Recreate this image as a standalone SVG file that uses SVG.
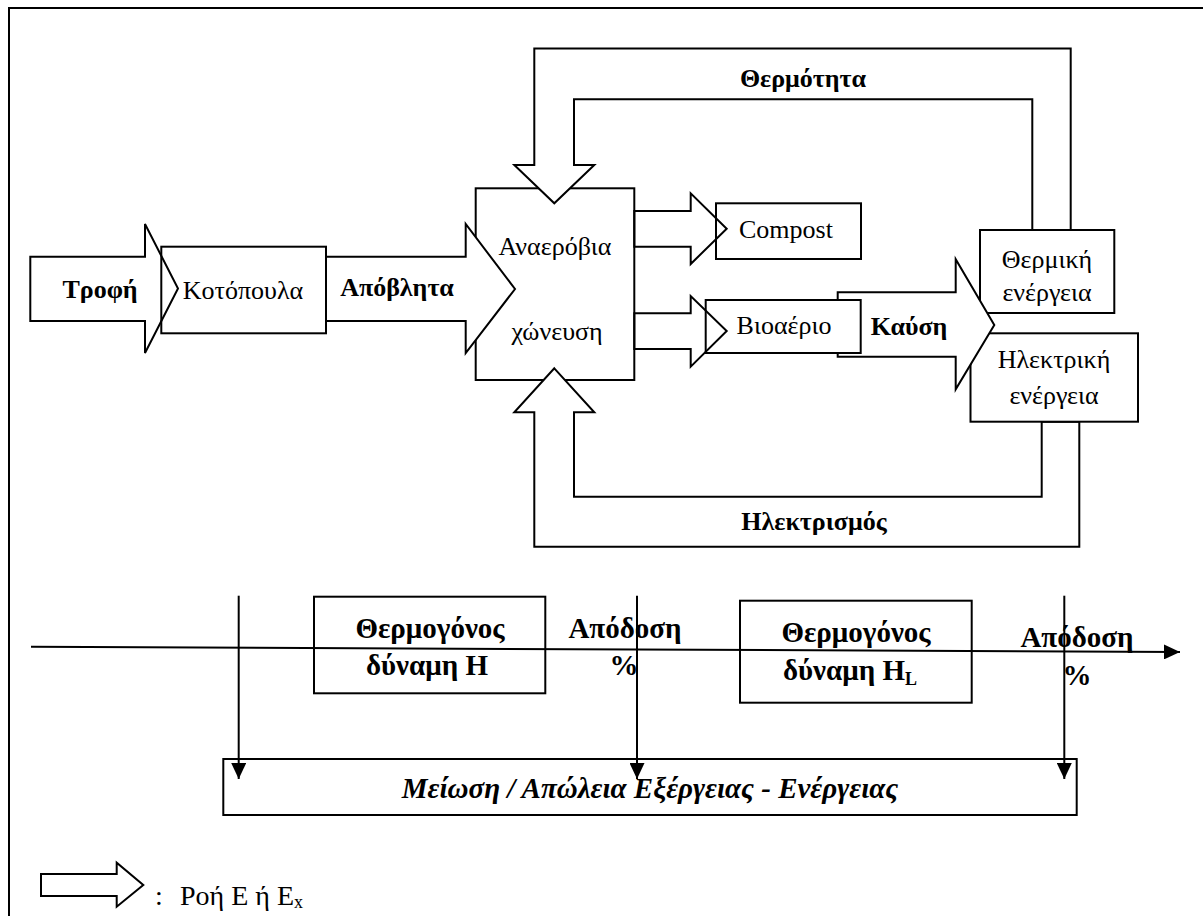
<svg xmlns="http://www.w3.org/2000/svg" width="1203" height="916" viewBox="0 0 1203 916">
  <style>
    .ln { fill: none; stroke: #000; stroke-width: 2; }
    .box { fill: #fff; stroke: #000; stroke-width: 2; }
    .frame { fill: none; stroke: #000; stroke-width: 2; }
    .fat { fill: #fff; stroke: #000; stroke-width: 2; stroke-linejoin: miter; }
    .hollow { fill: none; stroke: #000; stroke-width: 2; stroke-linejoin: miter; }
    text { font-size: 26px; fill: #000; }
    .c { text-anchor: middle; }
    .b { font-weight: bold; }
    .bi { font-weight: bold; font-style: italic; }
    .lb { font-size: 29px; }
    .lg { font-size: 28px; }
    .sub { font-size: 18px; }
  </style>
  <defs>
    <marker id="head" viewBox="0 0 16 15" refX="16" refY="7.5" markerWidth="16" markerHeight="15" markerUnits="userSpaceOnUse" orient="auto">
      <path d="M0,0 L16,7.5 L0,15 z" fill="#000"/>
    </marker>
  </defs>

  <rect x="0" y="0" width="1203" height="916" fill="#fff"/>

  <!-- page frame -->
  <path class="frame" d="M9,916 V8 H1203"/>

  <g font-family="Liberation Serif, Times New Roman, DejaVu Serif, serif">
  <!-- chickens + feed input -->
  <g id="node-kotopoula">
    <rect class="box" x="161.3" y="246.7" width="164.7" height="86.6"/>
    <text class="c" x="243" y="299">Κοτόπουλα</text>
  </g>
  <g id="flow-trofi">
    <polygon class="hollow" points="30.3,256.7 145,256.7 145,224 178,288.5 145,353 145,321 30.3,321"/>
    <text class="c b" x="100" y="298">Τροφή</text>
  </g>

  <!-- anaerobic digestion -->
  <g id="node-digestion">
    <rect class="box" x="475.7" y="188.3" width="158.6" height="191.7"/>
  </g>
  <g id="flow-apovlita">
    <polygon class="fat" points="326,256.7 465.7,256.7 465.7,224 515,289 465.7,353 465.7,321 326,321"/>
    <text class="c b" x="397" y="296">Απόβλητα</text>
  </g>

  <g id="connectors">
    <!-- heat returned to the digester -->
    <polygon class="fat" points="534.3,48.5 1070.7,48.5 1070.7,230 1032.3,230 1032.3,99.3 574,99.3 574,165 594.3,165 554.3,203.3 514.3,165 534.3,165"/>
    <!-- electricity returned to the digester -->
    <polygon class="fat" points="554.3,368.3 594.3,412.3 574,412.3 574,496.7 1041.7,496.7 1041.7,421.7 1079.3,421.7 1079.3,546.7 534.3,546.7 534.3,412.3 514.3,412.3"/>
  </g>
  <text class="c b" x="803" y="87">Θερμότητα</text>
  <text class="c b" x="814" y="530">Ηλεκτρισμός</text>

  <g id="label-digestion">
    <text class="c" x="555" y="255">Αναερόβια</text>
    <text class="c" x="557" y="340">χώνευση</text>
  </g>

  <!-- compost output -->
  <g id="node-compost">
    <rect class="box" x="716" y="203.3" width="145" height="55.7"/>
    <polygon class="hollow" points="634.3,211 690.7,211 690.7,193.3 726.7,228.7 690.7,264 690.7,246.7 634.3,246.7"/>
    <text class="c" x="786" y="238">Compost</text>
  </g>

  <!-- heat and power -->
  <g id="node-thermal">
    <rect class="box" x="980" y="230" width="134.3" height="83"/>
    <text class="c" x="1047" y="268">Θερμική</text>
    <text class="c" x="1047" y="301">ενέργεια</text>
  </g>
  <g id="node-electric">
    <rect class="box" x="970.5" y="333.3" width="167.5" height="88.4"/>
    <text class="c" x="1054" y="368">Ηλεκτρική</text>
    <text class="c" x="1054" y="404">ενέργεια</text>
  </g>
  <g id="flow-kaysi">
    <polygon class="fat" points="837.7,292.3 955.7,292.3 955.7,259.3 994.3,325 955.7,389.3 955.7,356.7 837.7,356.7"/>
    <text class="c b" x="909" y="335">Καύση</text>
  </g>

  <!-- biogas output -->
  <g id="node-biogas">
    <rect class="box" x="705.7" y="300" width="155" height="53"/>
    <polygon class="hollow" points="634.3,313.3 690.7,313.3 690.7,296 726.7,331 690.7,366.7 690.7,349 634.3,349"/>
    <text class="c" x="784" y="334">Βιοαέριο</text>
  </g>

  <!-- efficiency chain -->
  <g id="node-heating-value-h">
    <rect class="ln" x="314" y="596.7" width="231.3" height="96.6"/>
    <text class="c b lb" x="430" y="638">Θερμογόνος</text>
    <text class="c b lb" x="427" y="675">δύναμη Η</text>
  </g>
  <g id="node-heating-value-hl">
    <rect class="ln" x="740" y="600.7" width="231.7" height="102"/>
    <text class="c b lb" x="856" y="642">Θερμογόνος</text>
    <text class="c b lb" x="850" y="680">δύναμη Η<tspan class="sub" dy="5">L</tspan></text>
  </g>
  <g id="label-efficiency-1">
    <text class="c b lb" x="625" y="638">Απόδοση</text>
    <text class="c b lb" x="624" y="675">%</text>
  </g>
  <g id="label-efficiency-2">
    <text class="c b lb" x="1077" y="647">Απόδοση</text>
    <text class="c b lb" x="1077" y="685">%</text>
  </g>
  <g id="node-loss">
    <rect class="ln" x="223.3" y="759" width="853.4" height="56"/>
    <text class="c bi lb" x="650" y="798">Μείωση / Απώλεια Εξέργειας - Ενέργειας</text>
  </g>

  <g id="axis-connectors">
    <path class="ln" d="M31,646.7 L1180,652" marker-end="url(#head)"/>
    <path class="ln" d="M238.7,595.7 V779" marker-end="url(#head)"/>
    <path class="ln" d="M637,595.7 V779" marker-end="url(#head)"/>
    <path class="ln" d="M1064.3,595.7 V779" marker-end="url(#head)"/>
  </g>

  <!-- legend -->
  <g id="legend">
    <polygon class="hollow" points="41,874 116.7,874 116.7,862.7 143.3,885 116.7,906.7 116.7,896 41,896"/>
    <text class="lg" x="155" y="905">:</text>
    <text class="lg" x="180" y="905">Ροή Ε ή Ε<tspan class="sub" dy="3">x</tspan></text>
  </g>
  </g>
</svg>
